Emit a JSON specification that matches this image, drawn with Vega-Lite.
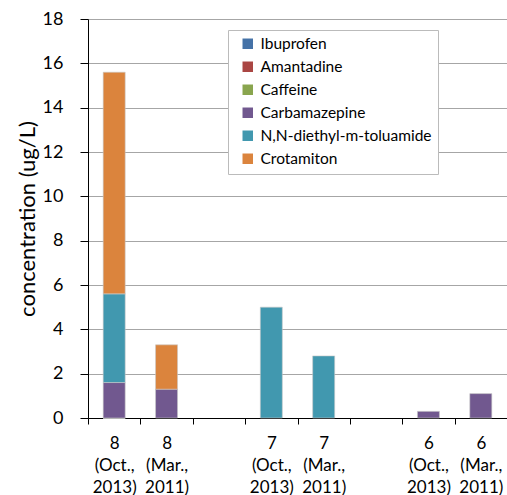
{
  "$schema": "https://vega.github.io/schema/vega-lite/v6.json",
  "width": 419,
  "height": 399,
  "autosize": "none",
  "padding": {"left": 88, "top": 19, "right": 0, "bottom": 77},
  "background": "white",
  "config": {
    "view": {"stroke": null},
    "font": "Lato"
  },
  "data": {
    "values": [
      {"site": "8|(Oct.,|2013)", "compound": "Ibuprofen", "idx": 1, "value": 0},
      {"site": "8|(Oct.,|2013)", "compound": "Amantadine", "idx": 2, "value": 0},
      {"site": "8|(Oct.,|2013)", "compound": "Caffeine", "idx": 3, "value": 0},
      {"site": "8|(Oct.,|2013)", "compound": "Carbamazepine", "idx": 4, "value": 1.6},
      {"site": "8|(Oct.,|2013)", "compound": "N,N-diethyl-m-toluamide", "idx": 5, "value": 4.0},
      {"site": "8|(Oct.,|2013)", "compound": "Crotamiton", "idx": 6, "value": 10.0},
      {"site": "8|(Mar.,|2011)", "compound": "Carbamazepine", "idx": 4, "value": 1.3},
      {"site": "8|(Mar.,|2011)", "compound": "Crotamiton", "idx": 6, "value": 2.0},
      {"site": "7|(Oct.,|2013)", "compound": "N,N-diethyl-m-toluamide", "idx": 5, "value": 5.0},
      {"site": "7|(Mar.,|2011)", "compound": "N,N-diethyl-m-toluamide", "idx": 5, "value": 2.8},
      {"site": "6|(Oct.,|2013)", "compound": "Carbamazepine", "idx": 4, "value": 0.3},
      {"site": "6|(Mar.,|2011)", "compound": "Carbamazepine", "idx": 4, "value": 1.1}
    ]
  },
  "mark": {"type": "bar", "width": {"band": 0.42}, "stroke": "#c8c8c8", "strokeWidth": 0.6},
  "encoding": {
    "x": {
      "field": "site",
      "type": "nominal",
      "scale": {
        "domain": ["8|(Oct.,|2013)", "8|(Mar.,|2011)", "gap1", "7|(Oct.,|2013)", "7|(Mar.,|2011)", "gap2", "6|(Oct.,|2013)", "6|(Mar.,|2011)"],
        "paddingInner": 0,
        "paddingOuter": 0
      },
      "axis": {
        "title": null,
        "labelAngle": 0,
        "labelExpr": "isString(datum.value) && indexof(datum.value, '|') >= 0 ? split(datum.value, '|') : ''",
        "labelFontSize": 17,
        "labelColor": "#000000",
        "labelLineHeight": 22,
        "labelPadding": 11,
        "tickBand": "extent",
        "tickColor": "#000000",
        "tickSize": 6,
        "domainColor": "#000000",
        "grid": false
      }
    },
    "y": {
      "field": "value",
      "type": "quantitative",
      "scale": {"domain": [0, 18], "nice": false},
      "axis": {
        "title": "concentration (ug/L)",
        "titleFontSize": 22,
        "titleFontWeight": "normal",
        "titleColor": "#000000",
        "titlePadding": 3,
        "values": [0, 2, 4, 6, 8, 10, 12, 14, 16, 18],
        "labelFontSize": 18,
        "labelColor": "#000000",
        "labelPadding": 17,
        "tickColor": "#000000",
        "tickSize": 8,
        "domainColor": "#000000",
        "gridColor": "#a6a6a6",
        "gridWidth": 1
      }
    },
    "color": {
      "field": "compound",
      "type": "nominal",
      "scale": {
        "domain": ["Ibuprofen", "Amantadine", "Caffeine", "Carbamazepine", "N,N-diethyl-m-toluamide", "Crotamiton"],
        "range": ["#4572A7", "#AA4643", "#89A54E", "#71588F", "#4198AF", "#DB843D"]
      },
      "legend": {
        "title": null,
        "orient": "none",
        "legendX": 140,
        "legendY": 11,
        "symbolType": "square",
        "symbolSize": 110,
        "symbolStrokeWidth": 0,
        "symbolOffset": 6,
        "labelOffset": 5,
        "labelFontSize": 15.5,
        "labelColor": "#000000",
        "labelLimit": 300,
        "rowPadding": 6,
        "padding": 6,
        "strokeColor": "#bbbbbb",
        "fillColor": "white"
      }
    },
    "order": {"field": "idx", "type": "quantitative"}
  }
}
